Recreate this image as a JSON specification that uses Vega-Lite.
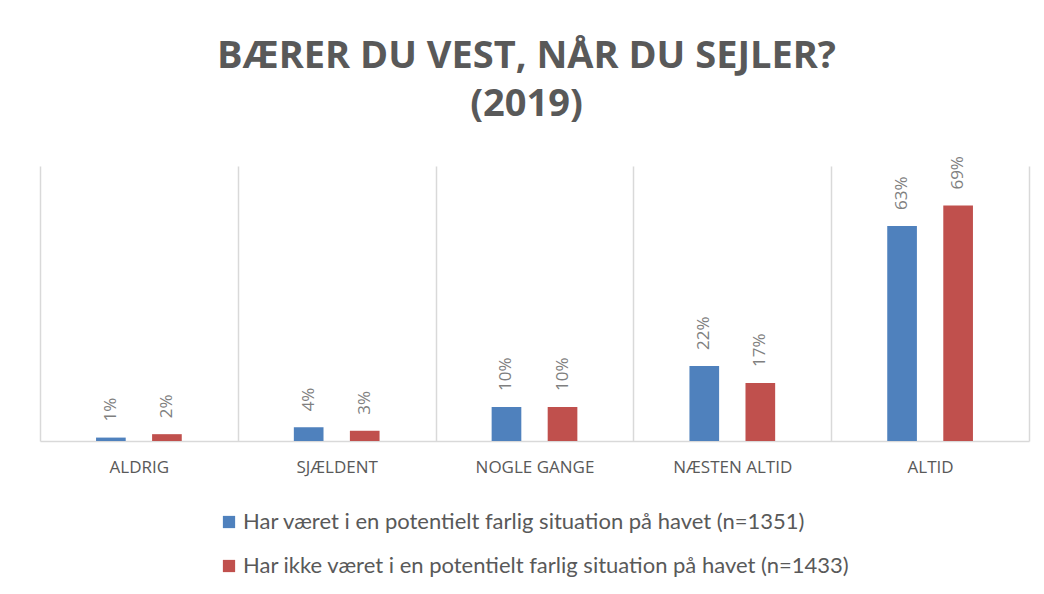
{
  "$schema": "https://vega.github.io/schema/vega-lite/v6.json",
  "autosize": {"type": "none"},
  "width": 989,
  "height": 275,
  "padding": {"left": 40, "top": 166, "right": 15, "bottom": 153},
  "background": "white",
  "title": {
    "text": ["BÆRER DU VEST, NÅR DU SEJLER?", "(2019)"],
    "font": "Open Sans",
    "fontSize": 38,
    "fontWeight": "bold",
    "color": "#595959",
    "lineHeight": 48,
    "offset": 32,
    "anchor": "middle",
    "dx": -8
  },
  "data": {
    "values": [
      {"svar": "ALDRIG", "gruppe": "Har været i en potentielt farlig situation på havet (n=1351)", "andel": 0.01},
      {"svar": "ALDRIG", "gruppe": "Har ikke været i en potentielt farlig situation på havet (n=1433)", "andel": 0.02},
      {"svar": "SJÆLDENT", "gruppe": "Har været i en potentielt farlig situation på havet (n=1351)", "andel": 0.04},
      {"svar": "SJÆLDENT", "gruppe": "Har ikke været i en potentielt farlig situation på havet (n=1433)", "andel": 0.03},
      {"svar": "NOGLE GANGE", "gruppe": "Har været i en potentielt farlig situation på havet (n=1351)", "andel": 0.10},
      {"svar": "NOGLE GANGE", "gruppe": "Har ikke været i en potentielt farlig situation på havet (n=1433)", "andel": 0.10},
      {"svar": "NÆSTEN ALTID", "gruppe": "Har været i en potentielt farlig situation på havet (n=1351)", "andel": 0.22},
      {"svar": "NÆSTEN ALTID", "gruppe": "Har ikke været i en potentielt farlig situation på havet (n=1433)", "andel": 0.17},
      {"svar": "ALTID", "gruppe": "Har været i en potentielt farlig situation på havet (n=1351)", "andel": 0.63},
      {"svar": "ALTID", "gruppe": "Har ikke været i en potentielt farlig situation på havet (n=1433)", "andel": 0.69}
    ]
  },
  "encoding": {
    "x": {
      "field": "svar",
      "type": "nominal",
      "sort": ["ALDRIG", "SJÆLDENT", "NOGLE GANGE", "NÆSTEN ALTID", "ALTID"],
      "scale": {"paddingInner": 0, "paddingOuter": 0},
      "axis": {
        "title": null,
        "labelAngle": 0,
        "labelFont": "Open Sans",
        "labelFontSize": 17,
        "labelColor": "#595959",
        "labelPadding": 18,
        "ticks": false,
        "grid": true,
        "gridColor": "#d9d9d9",
        "gridWidth": 1.5,
        "tickBand": "extent",
        "domainColor": "#d9d9d9",
        "domainWidth": 1.5
      }
    },
    "xOffset": {
      "field": "gruppe",
      "type": "nominal",
      "sort": ["Har været i en potentielt farlig situation på havet (n=1351)", "Har ikke været i en potentielt farlig situation på havet (n=1433)"],
      "scale": {"paddingInner": 0.4706, "paddingOuter": 1.174}
    },
    "y": {
      "field": "andel",
      "type": "quantitative",
      "scale": {"domain": [0, 0.806], "nice": false},
      "axis": null
    },
    "color": {
      "field": "gruppe",
      "type": "nominal",
      "sort": ["Har været i en potentielt farlig situation på havet (n=1351)", "Har ikke været i en potentielt farlig situation på havet (n=1433)"],
      "scale": {"range": ["#4f81bd", "#c0504d"]},
      "legend": {
        "title": null,
        "orient": "none",
        "legendX": 178,
        "legendY": 345,
        "direction": "vertical",
        "symbolType": "square",
        "symbolSize": 150,
        "symbolStrokeWidth": 0,
        "labelFont": "Lato",
        "labelFontSize": 22,
        "labelColor": "#595959",
        "labelLimit": 900,
        "rowPadding": 22,
        "labelOffset": 3
      }
    }
  },
  "layer": [
    {"mark": {"type": "bar"}},
    {
      "mark": {
        "type": "text",
        "angle": 270,
        "align": "left",
        "baseline": "middle",
        "dx": 16,
        "font": "Open Sans",
        "fontSize": 17,
        "color": "#7f7f7f"
      },
      "encoding": {
        "text": {"field": "andel", "type": "quantitative", "format": ".0%"},
        "detail": {"field": "gruppe"},
        "color": {"value": "#7f7f7f"}
      }
    }
  ],
  "config": {"view": {"stroke": null}}
}
